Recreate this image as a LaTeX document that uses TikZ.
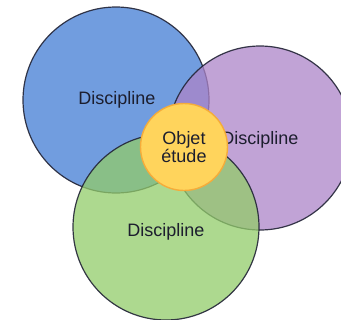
\documentclass[tikz,border=0pt]{standalone}
\usepackage{fontspec}
\setmainfont{Liberation Sans}
\definecolor{discblue}{RGB}{66,124,212}
\definecolor{discpurple}{RGB}{172,132,200}
\definecolor{discgreen}{RGB}{146,204,106}
\definecolor{objfill}{RGB}{255,212,92}
\definecolor{objline}{RGB}{245,172,58}
\definecolor{edgedark}{RGB}{34,36,54}
\definecolor{inkdark}{RGB}{28,30,46}
\begin{document}
\begin{tikzpicture}[x=1bp,y=-1bp,
  disc/.style={circle, minimum size=#1, inner sep=0pt, line width=1.2bp,
    draw=edgedark, fill opacity=0.75, draw opacity=0.9},
  disclabel/.style={inner sep=0pt, text=inkdark,
    font=\fontsize{18bp}{18.3bp}\selectfont},
  objet/.style={circle, minimum size=#1, inner sep=0pt, line width=1.4bp,
    draw=objline, fill=objfill, text=inkdark, align=center,
    font=\fontsize{18bp}{18.3bp}\selectfont}]
  \useasboundingbox (0,0) rectangle (341,320);
  \clip (0,0) rectangle (341,320);
  % the three disciplines, drawn bottom to top
  \node[disc=186bp, fill=discblue]   (blue)   at (116,100) {};
  \node[disclabel] (bluetext) at (117,100) {Discipline};
  \node[disc=184bp, fill=discpurple] (purple) at (260,138) {};
  \node[disclabel] (purpletext) at (260,140) {Discipline};
  \node[disc=186bp, fill=discgreen]  (green)  at (166,227) {};
  \node[disclabel] (greentext) at (166,232) {Discipline};
  % the shared object of study in the middle
  \node[objet=87bp] (objet) at (184,147) {Objet\\étude};
\end{tikzpicture}
\end{document}
